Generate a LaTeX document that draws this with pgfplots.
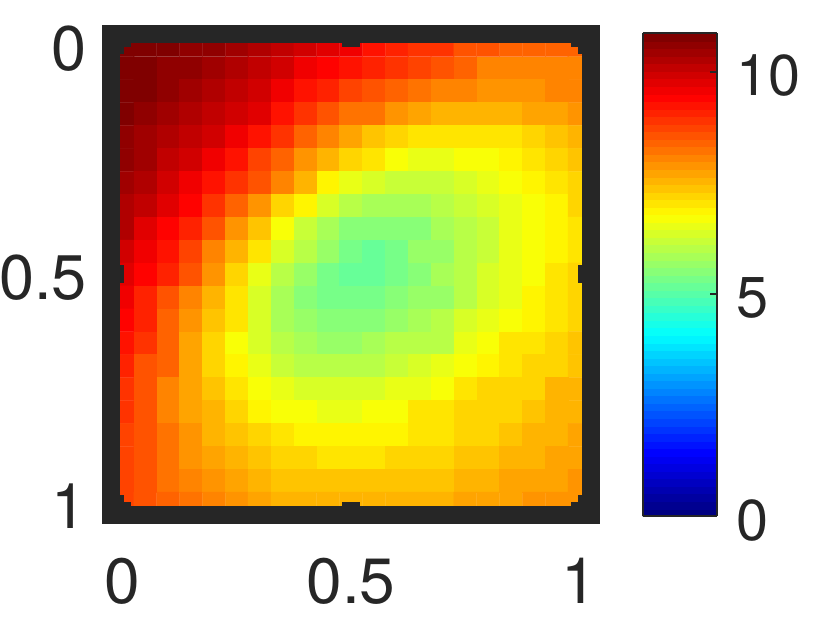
\documentclass[border=0pt]{standalone}
\usepackage{fontspec}
\setmainfont{TeX Gyre Heros}
\usepackage{pgfplots}
\pgfplotsset{compat=1.18}
\definecolor{frm}{RGB}{38,38,38}
\pgfplotsset{colormap/jet, colormap={jet64}{samples of colormap=(64 of jet)}}
\begin{document}
\begin{tikzpicture}
\useasboundingbox (0,0) rectangle (830pt,625pt);
\begin{axis}[
  at={(111pt,110pt)}, anchor=south west,
  scale only axis, width=480pt, height=481.2pt,
  xmin=-0.025, xmax=1.025, ymin=-0.025, ymax=1.025,
  y dir=reverse, axis on top,
  xtick={0,0.5,1}, ytick={0,0.5,1},
  tick align=inside,
  major tick length=13.5pt,
  axis line style={line width=18pt, color=frm},
  tick style={line width=18pt, color=frm},
  /pgf/number format/assume math mode=true,
  xticklabel style={font=\fontsize{64}{64}\selectfont, text=frm, inner sep=0pt, anchor=north, yshift=-43pt},
  yticklabel style={font=\fontsize{63}{63}\selectfont, text=frm, inner sep=0pt, anchor=east, xshift=-24pt, yshift=-3pt},
  colormap name=jet64,
  colormap access=piecewise constant,
  point meta min=0, point meta max=10.87,
  colorbar sampled,
  colorbar style={
    at={(parent axis.north east)}, anchor=north west, xshift=43pt, yshift=0.5pt,
    scale only axis, width=74pt, height=483pt,
    samples=65,
    ytick={0,5,10}, ytick pos=right, yticklabel pos=right,
    tick align=inside, major tick length=7pt,
    axis line style={line width=2pt, color=frm},
    tick style={line width=1.5pt, color=frm},
    /pgf/number format/assume math mode=true,
    yticklabel style={font=\fontsize{57.6}{58}\selectfont, text=frm, inner sep=0pt, anchor=west, xshift=20pt, yshift=-4pt},
  },
]
\addplot[matrix plot*, shader=faceted, faceted color=mapped color, line width=0.3pt, mesh/cols=21, point meta=\thisrowno{0}] table[row sep=\\, header=false,
  x expr={mod(\coordindex,21)*0.05}, y expr={floor((\coordindex+0.5)/21)*0.05}] {
10.78\\10.78\\10.78\\10.61\\10.61\\10.44\\10.27\\10.10\\9.93\\9.76\\9.59\\9.26\\9.09\\8.92\\8.92\\8.58\\8.58\\8.41\\8.41\\8.41\\8.41\\
10.78\\10.78\\10.61\\10.61\\10.44\\10.27\\10.10\\9.93\\9.59\\9.43\\9.26\\9.09\\8.92\\8.75\\8.58\\8.41\\8.07\\8.07\\8.07\\8.07\\8.07\\
10.78\\10.78\\10.61\\10.44\\10.27\\10.10\\9.93\\9.59\\9.26\\9.09\\8.75\\8.58\\8.41\\8.24\\8.07\\8.07\\7.90\\7.90\\7.90\\8.07\\8.07\\
10.78\\10.61\\10.44\\10.27\\10.10\\9.93\\9.76\\9.26\\8.92\\8.58\\8.24\\8.24\\7.90\\7.73\\7.56\\7.56\\7.56\\7.56\\7.73\\7.73\\7.90\\
10.61\\10.44\\10.27\\10.10\\9.93\\9.59\\9.26\\8.92\\8.41\\8.07\\7.73\\7.39\\7.22\\7.05\\7.05\\7.05\\7.05\\7.05\\7.22\\7.39\\7.56\\
10.61\\10.44\\10.10\\9.93\\9.59\\9.26\\8.75\\8.41\\7.90\\7.56\\7.22\\7.05\\6.71\\6.54\\6.54\\6.71\\6.71\\6.88\\7.05\\7.22\\7.39\\
10.44\\10.27\\9.93\\9.59\\9.26\\8.92\\8.58\\8.07\\7.56\\6.88\\6.54\\6.37\\6.20\\6.20\\6.20\\6.37\\6.54\\6.71\\6.88\\7.05\\7.22\\
10.27\\10.10\\9.76\\9.43\\8.92\\8.41\\7.90\\7.22\\6.88\\6.37\\6.03\\5.86\\5.86\\5.86\\6.03\\6.20\\6.37\\6.54\\6.71\\6.88\\7.22\\
10.27\\9.76\\9.43\\9.09\\8.58\\7.90\\7.39\\6.71\\6.20\\5.86\\5.52\\5.52\\5.52\\5.52\\5.86\\6.03\\6.20\\6.54\\6.71\\6.88\\7.05\\
9.93\\9.59\\9.26\\8.75\\8.07\\7.56\\7.05\\6.37\\6.03\\5.69\\5.35\\5.18\\5.35\\5.69\\5.69\\6.03\\6.20\\6.54\\6.71\\6.88\\7.05\\
9.76\\9.43\\9.09\\8.58\\7.90\\7.22\\6.54\\6.03\\5.69\\5.35\\5.18\\5.18\\5.35\\5.52\\5.86\\6.03\\6.37\\6.54\\6.71\\7.05\\7.22\\
9.59\\9.09\\8.58\\8.07\\7.56\\7.05\\6.37\\5.86\\5.52\\5.35\\5.35\\5.35\\5.52\\5.69\\5.69\\6.03\\6.37\\6.54\\6.88\\7.05\\7.22\\
9.43\\9.09\\8.41\\7.90\\7.39\\7.05\\6.37\\5.86\\5.69\\5.52\\5.52\\5.52\\5.69\\5.86\\6.03\\6.37\\6.54\\6.71\\6.88\\7.05\\7.22\\
9.26\\8.92\\8.41\\7.73\\7.22\\6.71\\6.37\\6.03\\5.86\\5.69\\5.69\\5.86\\6.03\\6.03\\6.03\\6.54\\6.71\\7.05\\7.05\\7.22\\7.39\\
9.09\\8.58\\8.41\\7.73\\7.22\\6.88\\6.54\\6.20\\6.03\\6.03\\6.03\\6.03\\6.20\\6.37\\6.54\\6.71\\6.88\\7.05\\7.22\\7.22\\7.39\\
8.92\\8.58\\8.07\\7.73\\7.39\\7.05\\6.71\\6.54\\6.37\\6.37\\6.37\\6.37\\6.54\\6.54\\6.71\\7.05\\7.22\\7.22\\7.22\\7.56\\7.56\\
8.92\\8.58\\8.07\\7.73\\7.56\\7.22\\6.88\\6.71\\6.71\\6.54\\6.54\\6.71\\6.71\\7.05\\7.05\\7.22\\7.22\\7.22\\7.39\\7.56\\7.56\\
8.75\\8.58\\8.24\\7.90\\7.56\\7.39\\7.22\\7.05\\6.88\\6.88\\6.88\\6.88\\6.88\\7.05\\7.05\\7.22\\7.22\\7.39\\7.56\\7.56\\7.73\\
8.75\\8.58\\8.24\\7.90\\7.73\\7.56\\7.39\\7.22\\7.22\\7.05\\7.05\\7.05\\7.22\\7.22\\7.22\\7.39\\7.39\\7.56\\7.56\\7.73\\7.73\\
8.75\\8.58\\8.24\\8.07\\7.90\\7.73\\7.56\\7.39\\7.39\\7.39\\7.39\\7.39\\7.39\\7.39\\7.39\\7.56\\7.56\\7.73\\7.73\\7.73\\7.90\\
8.75\\8.58\\8.41\\8.24\\8.07\\7.90\\7.73\\7.56\\7.56\\7.56\\7.56\\7.56\\7.56\\7.56\\7.56\\7.73\\7.73\\7.73\\7.90\\7.90\\7.90\\
};
\end{axis}
\end{tikzpicture}
\end{document}
